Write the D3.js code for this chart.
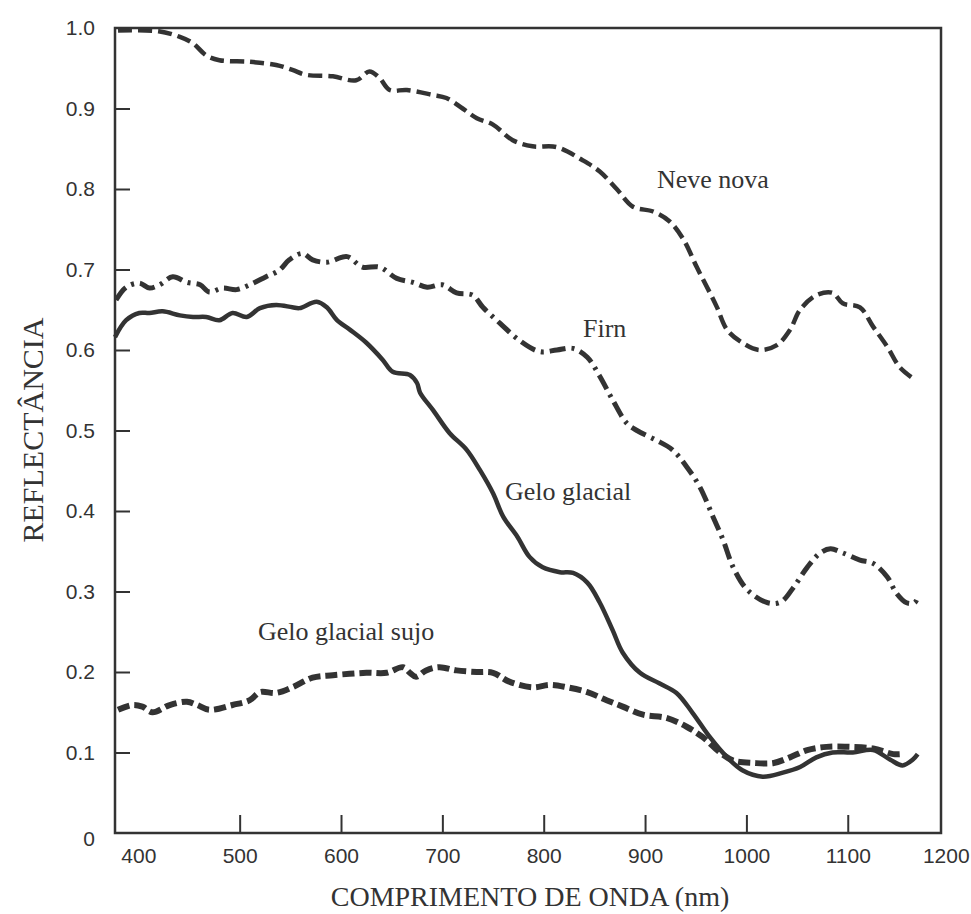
<!DOCTYPE html>
<html>
<head>
<meta charset="utf-8">
<script src="https://cdn.jsdelivr.net/npm/d3@7"></script>
<style>
  body { margin: 0; background: #fff; }
  svg { display: block; }
</style>
</head>
<body>
<script>
// spectral reflectance of snow and ice
var neveNm = [380, 420, 441, 454, 467, 480, 510, 536, 552, 565, 592, 615, 628, 638, 648, 665, 690, 704, 720, 734, 750, 769, 789, 813, 838, 855, 872, 888, 908, 924, 938, 951, 964, 971, 981, 996, 1013, 1030, 1043, 1053, 1069, 1085, 1095, 1112, 1125, 1139, 1151, 1163];
var neveR = [0.997, 0.996, 0.989, 0.981, 0.966, 0.96, 0.958, 0.954, 0.948, 0.942, 0.94, 0.935, 0.946, 0.938, 0.923, 0.923, 0.917, 0.913, 0.9, 0.888, 0.88, 0.861, 0.853, 0.852, 0.836, 0.822, 0.8, 0.778, 0.772, 0.76, 0.737, 0.703, 0.671, 0.653, 0.625, 0.609, 0.6, 0.606, 0.625, 0.65, 0.668, 0.671, 0.658, 0.653, 0.629, 0.604, 0.579, 0.566];

var firnNm = [378, 388, 401, 411, 421, 434, 448, 461, 470, 483, 497, 510, 526, 539, 549, 562, 572, 586, 606, 621, 638, 655, 671, 685, 700, 714, 730, 740, 757, 776, 796, 813, 829, 843, 855, 868, 882, 892, 911, 927, 941, 954, 967, 977, 987, 1001, 1021, 1034, 1047, 1060, 1073, 1083, 1095, 1112, 1125, 1139, 1148, 1158, 1166, 1169];
var firnR = [0.662, 0.678, 0.683, 0.677, 0.681, 0.691, 0.684, 0.681, 0.672, 0.677, 0.675, 0.681, 0.691, 0.699, 0.712, 0.72, 0.712, 0.709, 0.716, 0.703, 0.703, 0.689, 0.684, 0.678, 0.681, 0.671, 0.668, 0.653, 0.633, 0.612, 0.598, 0.6, 0.602, 0.591, 0.568, 0.538, 0.509, 0.5, 0.488, 0.476, 0.455, 0.43, 0.393, 0.364, 0.33, 0.302, 0.286, 0.287, 0.306, 0.33, 0.348, 0.353, 0.348, 0.339, 0.335, 0.318, 0.298, 0.286, 0.286, 0.293];

var geloNm = [377, 388, 401, 411, 424, 441, 454, 467, 480, 493, 507, 520, 536, 552, 559, 576, 586, 596, 609, 625, 641, 651, 668, 675, 678, 691, 707, 724, 737, 750, 760, 774, 786, 799, 816, 829, 843, 855, 868, 878, 895, 914, 931, 947, 964, 981, 996, 1016, 1036, 1053, 1069, 1085, 1105, 1125, 1142, 1154, 1164, 1169];
var geloR = [0.616, 0.637, 0.646, 0.646, 0.648, 0.643, 0.641, 0.641, 0.637, 0.646, 0.641, 0.652, 0.656, 0.653, 0.652, 0.66, 0.653, 0.637, 0.625, 0.609, 0.588, 0.573, 0.569, 0.559, 0.547, 0.525, 0.497, 0.476, 0.451, 0.422, 0.393, 0.368, 0.343, 0.33, 0.324, 0.323, 0.311, 0.287, 0.252, 0.224, 0.199, 0.186, 0.174, 0.149, 0.119, 0.094, 0.078, 0.07, 0.075, 0.082, 0.094, 0.1, 0.1, 0.103, 0.091, 0.084, 0.091, 0.098];

var sujoNm = [380, 394, 404, 414, 431, 448, 458, 470, 493, 510, 520, 536, 552, 572, 592, 625, 645, 661, 668, 674, 684, 697, 714, 734, 750, 766, 789, 806, 823, 843, 862, 878, 898, 921, 941, 957, 974, 987, 1007, 1027, 1043, 1060, 1079, 1102, 1125, 1145, 1153];
var sujoR = [0.153, 0.159, 0.157, 0.15, 0.159, 0.163, 0.159, 0.153, 0.159, 0.165, 0.175, 0.174, 0.181, 0.193, 0.196, 0.199, 0.199, 0.206, 0.199, 0.194, 0.202, 0.206, 0.202, 0.2, 0.199, 0.188, 0.181, 0.184, 0.181, 0.175, 0.165, 0.157, 0.147, 0.143, 0.132, 0.119, 0.1, 0.09, 0.087, 0.087, 0.094, 0.103, 0.107, 0.107, 0.105, 0.098, 0.098];

var xTicks = [400, 500, 600, 700, 800, 900, 1000, 1100, 1200];
var yTicks = [0, 0.1, 0.2, 0.3, 0.4, 0.5, 0.6, 0.7, 0.8, 0.9, 1.0];

var ink = "#333";
var width = 971, height = 914;

var svg = d3.select("body").append("svg")
  .attr("width", width)
  .attr("height", height);

var x = d3.scaleLinear().domain([377, 1192]).range([115, 941]);
var y = d3.scaleLinear().domain([0, 1]).range([833, 28]);

// frame
svg.append("rect")
  .attr("x", x.range()[0]).attr("y", y(1))
  .attr("width", x.range()[1] - x.range()[0])
  .attr("height", y(0) - y(1))
  .attr("fill", "none")
  .attr("stroke", ink)
  .attr("stroke-width", 2.5);

var xAxis = svg.append("g")
  .attr("transform", "translate(0," + y(0) + ")")
  .call(d3.axisBottom(x).tickValues(xTicks).tickSizeInner(-18).tickSizeOuter(0).tickPadding(15)
    .tickFormat(d3.format("d")));

var yAxis = svg.append("g")
  .attr("transform", "translate(" + x.range()[0] + ",0)")
  .call(d3.axisLeft(y).tickValues(yTicks).tickSizeInner(-15).tickSizeOuter(0).tickPadding(20)
    .tickFormat(function(d) { return d === 0 ? "0" : d3.format(".1f")(d); }));

[xAxis, yAxis].forEach(function(g) {
  g.select(".domain").remove();
  g.selectAll("line").attr("stroke", ink).attr("stroke-width", 2);
  g.selectAll("text")
    .attr("fill", ink)
    .style("font-family", "'Liberation Sans', Arial, sans-serif")
    .style("font-size", "21px");
});
// no tick marks where labels sit on the frame corners
xAxis.selectAll(".tick").filter(function(d) { return d === 400 || d === 1200; }).select("line").remove();
yAxis.selectAll(".tick").filter(function(d) { return d === 0 || d === 1; }).select("line").remove();
yAxis.selectAll(".tick").filter(function(d) { return d === 0; }).select("text").attr("dy", "0.6em");
xAxis.selectAll(".tick").filter(function(d) { return d === 1200; }).select("text")
  .attr("text-anchor", "end").attr("x", 20);

var line = d3.line()
  .x(function(d) { return x(d[0]); })
  .y(function(d) { return y(d[1]); })
  .curve(d3.curveCatmullRom.alpha(0.5));

var series = [
  { nm: neveNm, r: neveR, dash: "14,6", w: 4.5 },
  { nm: firnNm, r: firnR, dash: "16,6,3,6", w: 5 },
  { nm: geloNm, r: geloR, dash: null, w: 4.5 },
  { nm: sujoNm, r: sujoR, dash: "12,5", w: 6 }
];

series.forEach(function(s) {
  var pts = d3.zip(s.nm, s.r);
  svg.append("path")
    .datum(pts)
    .attr("d", line)
    .attr("fill", "none")
    .attr("stroke", ink)
    .attr("stroke-width", s.w)
    .attr("stroke-linejoin", "round")
    .attr("stroke-dasharray", s.dash);
});

// curve labels
var serif = "'Liberation Serif', 'Times New Roman', serif";
var labels = [
  { t: "Neve nova", x: 657, y: 188 },
  { t: "Firn", x: 583, y: 337 },
  { t: "Gelo glacial", x: 505, y: 500 },
  { t: "Gelo glacial sujo", x: 258, y: 640 }
];
svg.selectAll(".lbl").data(labels).enter().append("text")
  .attr("class", "lbl")
  .attr("x", function(d) { return d.x; })
  .attr("y", function(d) { return d.y; })
  .attr("fill", ink)
  .style("font-family", serif)
  .style("font-size", "26px")
  .text(function(d) { return d.t; });

// axis titles
svg.append("text")
  .attr("x", 530).attr("y", 906)
  .attr("text-anchor", "middle")
  .attr("fill", ink)
  .style("font-family", serif)
  .style("font-size", "28px")
  .text("COMPRIMENTO DE ONDA (nm)");

svg.append("text")
  .attr("transform", "translate(43,430) rotate(-90)")
  .attr("text-anchor", "middle")
  .attr("fill", ink)
  .style("font-family", serif)
  .style("font-size", "30px")
  .text("REFLECTÂNCIA");
</script>
</body>
</html>
